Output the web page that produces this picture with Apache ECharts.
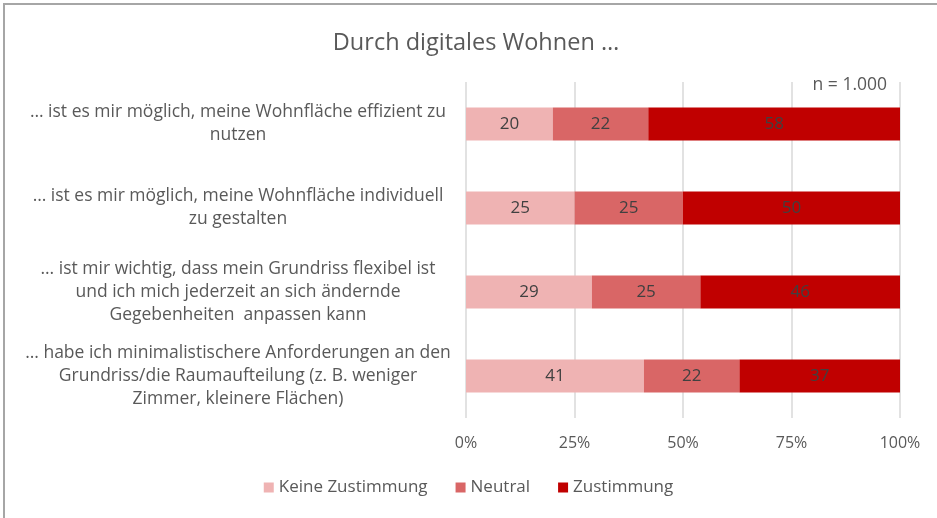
<!DOCTYPE html>
<html>
<head>
<meta charset="utf-8">
<script src="https://cdn.jsdelivr.net/npm/echarts@6/dist/echarts.min.js"></script>
<style>
  html, body { margin: 0; padding: 0; background: #fff; }
  #chart { width: 937px; height: 518px; }
</style>
</head>
<body>
<div id="chart"></div>
<script>
// Daten
var categories = [
  '… ist es mir möglich, meine Wohnfläche effizient zu\nnutzen',
  '… ist es mir möglich, meine Wohnfläche individuell\nzu gestalten',
  '… ist mir wichtig, dass mein Grundriss flexibel ist\nund ich mich jederzeit an sich ändernde\nGegebenheiten  anpassen kann',
  '… habe ich minimalistischere Anforderungen an den\nGrundriss/die Raumaufteilung (z. B. weniger\nZimmer, kleinere Flächen)'
];
var seriesNames = ['Keine Zustimmung', 'Neutral', 'Zustimmung'];
var keineZustimmung = [20, 25, 29, 41];
var neutral = [22, 25, 25, 22];
var zustimmung = [58, 50, 46, 37];
var xTicks = [0, 25, 50, 75, 100];

var colors = ['#EFB3B3', '#D96666', '#C00000'];
var textColor = '#595959';
var fontFamily = '"Open Sans", "Noto Sans", sans-serif';

var chart = echarts.init(document.getElementById('chart'));

function makeSeries(name, data, color) {
  return {
    name: name,
    type: 'bar',
    stack: 'total',
    barWidth: 33,
    data: data,
    itemStyle: { color: color },
    label: {
      show: true,
      position: 'inside',
      color: '#404040',
      fontSize: 17,
      fontFamily: fontFamily
    }
  };
}

var option = {
  backgroundColor: '#fff',
  animation: false,
  textStyle: { fontFamily: fontFamily },
  title: {
    text: 'Durch digitales Wohnen …',
    left: 471,
    top: 26,
    textAlign: 'center',
    textStyle: { color: textColor, fontSize: 23.5, fontWeight: 'normal', fontFamily: fontFamily }
  },
  legend: {
    bottom: 17,
    left: 'center',
    itemWidth: 10,
    itemHeight: 10,
    itemGap: 28,
    icon: 'rect',
    data: seriesNames,
    textStyle: { color: textColor, fontSize: 17, fontFamily: fontFamily }
  },
  grid: { left: 466, right: 37, top: 82, bottom: 100 },
  xAxis: {
    type: 'value',
    min: xTicks[0],
    max: xTicks[xTicks.length - 1],
    interval: 25,
    axisLine: { show: false },
    axisTick: { show: false },
    splitLine: { lineStyle: { color: '#D9D9D9', width: 1.5 } },
    axisLabel: { color: textColor, fontSize: 16, margin: 17, formatter: '{value}%' }
  },
  yAxis: {
    type: 'category',
    inverse: true,
    data: categories,
    axisLine: { show: false },
    axisTick: { show: false },
    axisLabel: {
      color: textColor,
      fontSize: 17.5,
      lineHeight: 23,
      align: 'center',
      margin: 228
    }
  },
  graphic: [
    { type: 'line', shape: { x1: 3, y1: 4, x2: 937, y2: 4 }, style: { stroke: '#A6A6A6', lineWidth: 2 } },
    { type: 'line', shape: { x1: 4, y1: 3, x2: 4, y2: 518 }, style: { stroke: '#A6A6A6', lineWidth: 2 } },
    { type: 'text', right: 50, top: 76, style: { text: 'n = 1.000', fill: textColor, fontSize: 17.5, fontFamily: fontFamily } }
  ],
  series: [
    makeSeries(seriesNames[0], keineZustimmung, colors[0]),
    makeSeries(seriesNames[1], neutral, colors[1]),
    makeSeries(seriesNames[2], zustimmung, colors[2])
  ]
};

chart.setOption(option);
</script>
</body>
</html>
